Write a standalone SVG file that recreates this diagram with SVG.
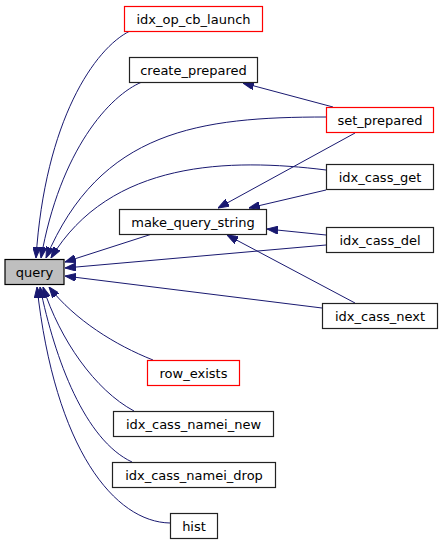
<svg xmlns="http://www.w3.org/2000/svg" width="443" height="544" viewBox="0 0 443 544">
<style>
.n rect{fill:#fff;stroke:#222;stroke-width:1.2}
.n.red rect{stroke:#ff0000}
.n.cur rect{fill:#bfbfbf;stroke:#000}
.n text{font-family:"DejaVu Sans",sans-serif;font-size:13px;fill:#000;text-anchor:middle}
.e path{fill:none;stroke:#191970;stroke-width:1;marker-end:url(#ah)}
</style>
<defs>
<marker id="ah" viewBox="0 0 11 8" refX="11" refY="4" markerWidth="11" markerHeight="8" markerUnits="userSpaceOnUse" orient="auto">
<path d="M0,0 L11,4 L0,8 z" fill="#191970" stroke="#191970" stroke-width="1"/>
</marker>
</defs>
<rect width="443" height="544" fill="#fff"/>
<g id="edges" class="e">
<path d="M130,31 C95,48 45,120 36,258"/>
<path d="M142,82 C110,95 60,150 41,258"/>
<path d="M326,117 C200,117 100,130 46,258"/>
<path d="M326,170 C230,158 110,160 51,258"/>
<path d="M152,234 L65,262"/>
<path d="M326,245 L65,268"/>
<path d="M322,308 L65,276"/>
<path d="M153,360 C115,345 75,320 49,287"/>
<path d="M134,411 C95,390 60,340 43,287"/>
<path d="M132,462 C85,440 55,360 40,287"/>
<path d="M170,523 C115,522 55,450 37,287"/>
<path d="M355,133 L218,208"/>
<path d="M326,190 L249,208"/>
<path d="M326,235 L267,229"/>
<path d="M355,303 L227,235"/>
<path d="M333,107 L243,83"/>
</g>
<g id="query" class="n cur"><rect x="5" y="259.5" width="59" height="25"/><text x="34.5" y="276.5">query</text></g>
<g id="idx_op_cb_launch" class="n red"><rect x="124.5" y="6.5" width="138" height="25"/><text x="193.5" y="23.5">idx_op_cb_launch</text></g>
<g id="create_prepared" class="n"><rect x="129.5" y="57.5" width="128" height="25"/><text x="193.5" y="74.5">create_prepared</text></g>
<g id="set_prepared" class="n red"><rect x="326.5" y="107.5" width="107" height="25"/><text x="380" y="124.5">set_prepared</text></g>
<g id="idx_cass_get" class="n"><rect x="326.5" y="164.5" width="107" height="25"/><text x="380" y="181.5">idx_cass_get</text></g>
<g id="make_query_string" class="n"><rect x="119.5" y="209.5" width="147" height="25"/><text x="193" y="226.5">make_query_string</text></g>
<g id="idx_cass_del" class="n"><rect x="326.5" y="227.5" width="107" height="25"/><text x="380" y="244.5">idx_cass_del</text></g>
<g id="idx_cass_next" class="n"><rect x="322.5" y="303.5" width="115" height="25"/><text x="380" y="320.5">idx_cass_next</text></g>
<g id="row_exists" class="n red"><rect x="147.5" y="360.5" width="92" height="25"/><text x="193.5" y="377.5">row_exists</text></g>
<g id="idx_cass_namei_new" class="n"><rect x="113.5" y="411.5" width="160" height="25"/><text x="193.5" y="428.5">idx_cass_namei_new</text></g>
<g id="idx_cass_namei_drop" class="n"><rect x="112.5" y="462.5" width="163" height="25"/><text x="194" y="479.5">idx_cass_namei_drop</text></g>
<g id="hist" class="n"><rect x="170.5" y="513.5" width="47" height="25"/><text x="194" y="530.5">hist</text></g>
</svg>
